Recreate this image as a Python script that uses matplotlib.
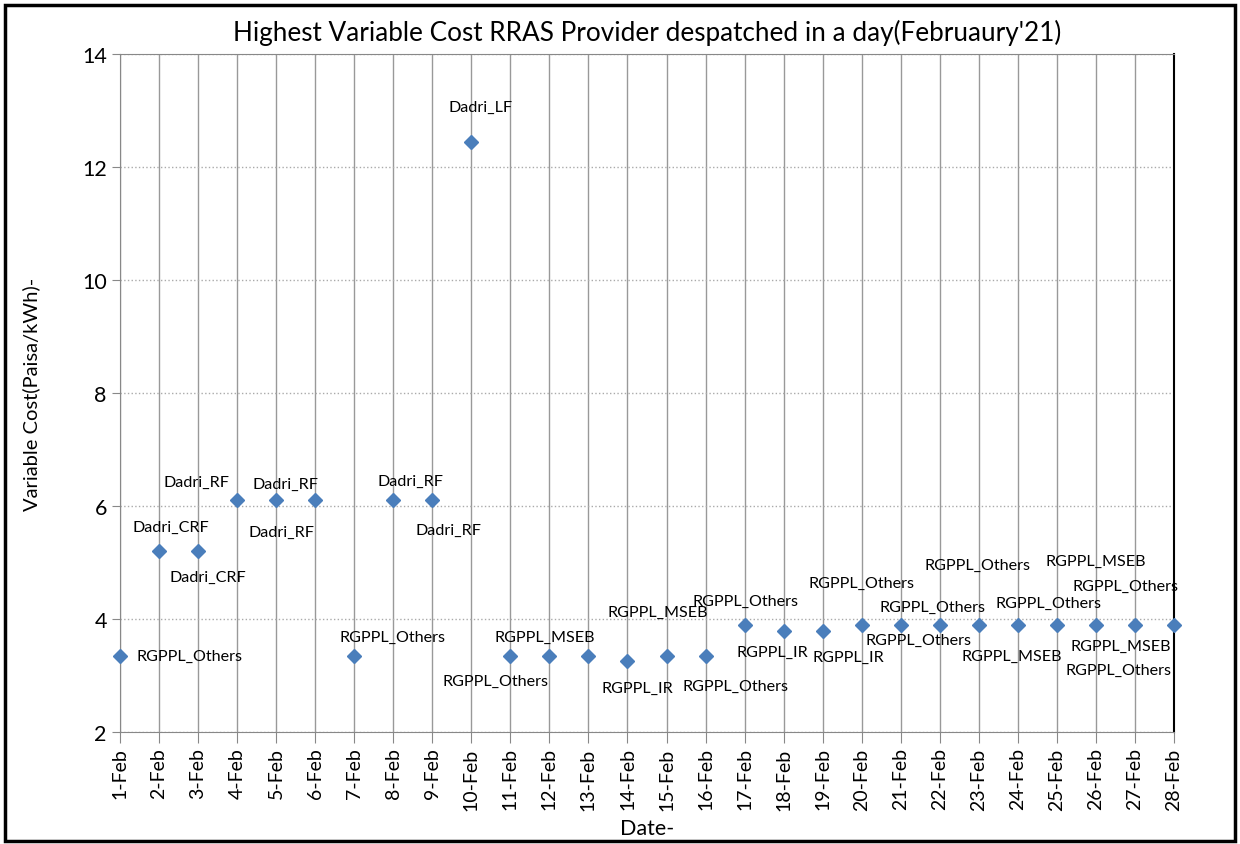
import matplotlib
matplotlib.use('Agg')
import matplotlib.pyplot as plt
from matplotlib.patches import Rectangle

plt.rcParams['font.family'] = ['Lato', 'DejaVu Sans']

days = [f'{d}-Feb' for d in range(1, 29)]
cost = [3.35, 5.2, 5.2, 6.1, 6.1, 6.1, 3.35, 6.1, 6.1, 12.44,
        3.35, 3.35, 3.35, 3.26, 3.35, 3.35, 3.89, 3.79, 3.79, 3.89,
        3.89, 3.89, 3.89, 3.89, 3.89, 3.89, 3.89, 3.89]

# which day (0-based) each text label belongs to, and the label
label_day = [0, 1, 2, 3, 4, 5, 6, 7, 8, 9, 10, 11, 13, 14, 15, 16, 17, 18,
             19, 20, 21, 22, 23, 24, 25, 26, 27, 25]
label_text = ['RGPPL_Others', 'Dadri_CRF', 'Dadri_CRF', 'Dadri_RF', 'Dadri_RF',
              'Dadri_RF', 'RGPPL_Others', 'Dadri_RF', 'Dadri_RF', 'Dadri_LF',
              'RGPPL_Others', 'RGPPL_MSEB', 'RGPPL_IR', 'RGPPL_MSEB', 'RGPPL_Others',
              'RGPPL_Others', 'RGPPL_IR', 'RGPPL_IR', 'RGPPL_Others', 'RGPPL_Others',
              'RGPPL_Others', 'RGPPL_Others', 'RGPPL_MSEB', 'RGPPL_Others', 'RGPPL_MSEB',
              'RGPPL_Others', 'RGPPL_MSEB', 'RGPPL_Others']
# pixel offsets of label centres from their point (right, up)
label_off = [(70, 0), (12, 24), (10, -26), (-41, 18), (5, -32),
             (-30, 16), (38, 19), (17, 19), (16, -30), (9, 35),
             (-15, -25), (-5, 19), (10, -27), (-9, 44), (30, -30),
             (1, 24), (-11, -21), (26, -26), (0, 42), (32, 18),
             (-21, -15), (-1, 60), (-6, -31), (-8, 22), (0, 64),
             (-9, 39), (-53, -21), (23, -45)]

W, H = 1240, 845
fig = plt.figure(figsize=(W / 100, H / 100), dpi=100)
ax = fig.add_axes([120 / W, 1 - 733 / H, (1174 - 120) / W, (733 - 55) / H])

x = list(range(len(days)))
ax.plot(x, cost, linestyle='none', marker='D', markersize=7.5,
        color='#4a7ebb', zorder=3, clip_on=False)

for d, t, (dx, dy) in zip(label_day, label_text, label_off):
    ax.annotate(t, (d, cost[d]), xytext=(dx * 0.72, dy * 0.72),
                textcoords='offset points', ha='center', va='center',
                fontsize=11.6, color='black')

ax.set_xlim(0, len(days) - 1)
ax.set_ylim(2, 14)
ax.set_yticks(range(2, 15, 2))
ax.set_xticks(x)
ax.set_xticklabels(days, rotation=90, fontsize=14)
ax.tick_params(axis='y', labelsize=15.5, length=6, color='#888888')
ax.tick_params(axis='x', length=8, color='#888888', pad=3)
ax.grid(axis='x', color='#999999', linewidth=1)
ax.grid(axis='y', color='#aaaaaa', linestyle=':', linewidth=1)
ax.set_axisbelow(True)
for s in ax.spines.values():
    s.set_color('#888888')
ax.spines['right'].set_color('black')
ax.spines['right'].set_linewidth(1.5)

ax.set_title("Highest Variable Cost RRAS Provider despatched in a day(Februaury'21)",
             fontsize=18.8, pad=10)
ax.set_ylabel('Variable Cost(Paisa/kWh)-', fontsize=14.5, labelpad=30)
ax.set_xlabel('Date-', fontsize=15.5, labelpad=6)

fig.patches.append(Rectangle((5 / W, 3 / H), 1 - 10 / W, 1 - 9 / H,
                             transform=fig.transFigure, fill=False,
                             edgecolor='black', linewidth=2.5))

fig.savefig('out.png', dpi=100)
